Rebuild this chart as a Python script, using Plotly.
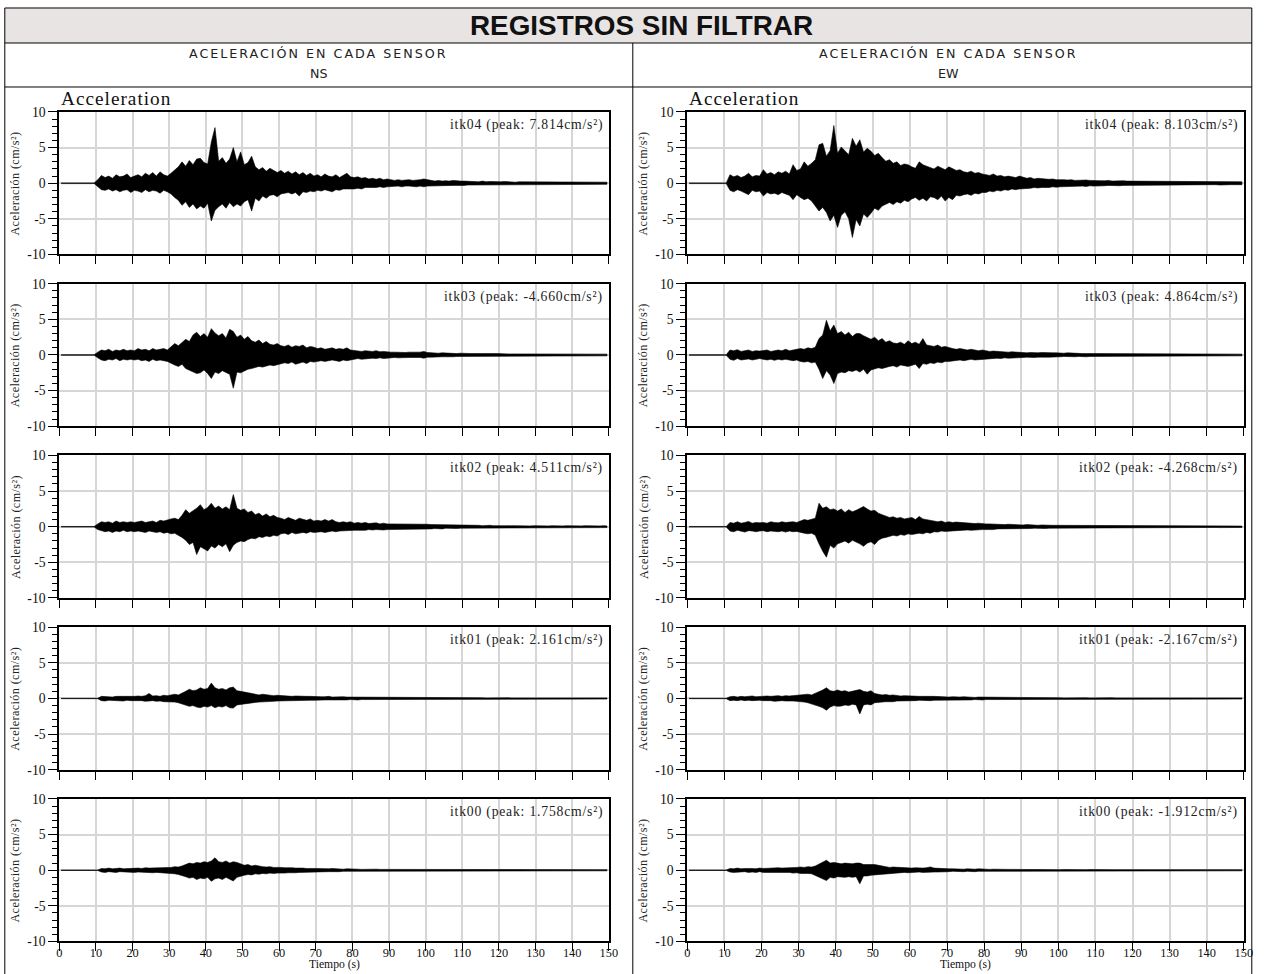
import plotly.graph_objects as go

# ---------------- data (per-second envelope: max / min, cm/s^2) ----------------
time_s = list(range(150))

ns04_max = [0.05,0.04,0.05,0.05,0.04,0.05,0.05,0.04,0.05,0.05,
 0.5,1.1,0.8,1.0,0.7,1.2,0.9,1.0,1.3,0.8,
 1.0,1.2,0.9,1.4,1.1,1.5,1.0,1.6,1.2,1.0,
 1.4,1.8,2.3,3.0,2.4,3.2,2.6,3.4,3.5,2.9,
 2.7,5.8,7.814,3.1,3.6,2.8,3.4,5.0,3.0,4.4,
 2.6,2.9,3.8,2.3,1.9,2.2,1.7,2.1,1.8,1.5,
 1.8,1.4,1.7,1.3,1.6,1.2,1.5,1.1,1.4,1.0,
 1.2,0.9,1.3,1.0,0.9,1.2,0.8,1.1,1.4,0.9,
 0.8,0.9,0.7,0.8,0.6,0.7,0.55,0.7,0.5,0.6,
 0.5,0.4,0.5,0.4,0.45,0.5,0.4,0.4,0.5,0.6,
 0.5,0.4,0.3,0.4,0.3,0.35,0.3,0.4,0.3,0.3,
 0.3,0.25,0.3,0.25,0.2,0.3,0.2,0.25,0.2,0.25,
 0.2,0.25,0.2,0.2,0.15,0.2,0.2,0.15,0.2,0.2,
 0.15,0.2,0.15,0.2,0.15,0.15,0.2,0.15,0.15,0.2,
 0.15,0.15,0.2,0.15,0.15,0.15,0.2,0.15,0.15,0.15]
ns04_min = [-0.05,-0.05,-0.04,-0.05,-0.05,-0.04,-0.05,-0.05,-0.05,-0.04,
 -0.5,-0.9,-1.0,-0.8,-1.1,-0.9,-1.2,-1.0,-0.9,-1.3,
 -1.0,-1.1,-1.3,-0.9,-1.2,-1.0,-1.1,-1.4,-1.0,-1.2,
 -1.5,-2.0,-2.4,-3.1,-2.6,-3.4,-2.9,-3.6,-3.2,-3.5,
 -2.8,-5.3,-3.8,-3.3,-2.9,-3.5,-2.7,-3.3,-2.9,-3.2,
 -2.6,-2.3,-3.9,-2.1,-2.5,-1.8,-2.1,-1.7,-1.6,-1.9,
 -1.5,-1.4,-1.3,-1.5,-1.3,-1.8,-1.2,-1.3,-1.1,-1.2,
 -1.0,-1.1,-0.9,-1.0,-1.2,-0.9,-1.0,-0.8,-0.9,-0.8,
 -0.8,-0.7,-0.8,-0.6,-0.7,-0.6,-0.6,-0.5,-0.6,-0.5,
 -0.5,-0.4,-0.4,-0.5,-0.4,-0.4,-0.4,-0.5,-0.4,-0.5,
 -0.4,-0.4,-0.3,-0.3,-0.3,-0.35,-0.3,-0.3,-0.3,-0.25,
 -0.3,-0.25,-0.25,-0.2,-0.25,-0.2,-0.25,-0.2,-0.2,-0.2,
 -0.2,-0.2,-0.15,-0.2,-0.2,-0.15,-0.2,-0.15,-0.15,-0.2,
 -0.15,-0.15,-0.2,-0.15,-0.15,-0.2,-0.15,-0.15,-0.15,-0.15,
 -0.15,-0.2,-0.15,-0.15,-0.15,-0.15,-0.15,-0.2,-0.15,-0.15]

ns03_max = [0.04,0.04,0.05,0.04,0.04,0.05,0.04,0.04,0.05,0.04,
 0.4,0.7,0.6,0.8,0.5,0.7,0.6,0.8,0.6,0.7,
 0.6,0.9,0.7,0.8,0.6,0.9,0.7,0.8,0.9,0.7,
 1.2,1.6,1.3,1.8,2.2,1.9,2.8,3.2,2.6,3.0,
 2.5,3.7,3.1,2.7,3.0,2.4,3.6,3.3,2.5,2.8,
 2.2,2.6,2.0,1.8,2.1,1.6,1.9,1.5,1.4,1.6,
 1.3,1.2,1.4,1.1,1.3,1.2,1.4,1.0,1.2,1.1,
 0.9,1.0,0.8,0.9,1.0,0.8,0.9,0.8,1.0,0.7,
 0.6,0.6,0.5,0.6,0.5,0.5,0.6,0.45,0.5,0.4,
 0.4,0.4,0.35,0.4,0.35,0.4,0.35,0.4,0.4,0.5,
 0.35,0.3,0.3,0.25,0.3,0.25,0.3,0.25,0.2,0.25,
 0.2,0.25,0.2,0.2,0.25,0.2,0.2,0.15,0.2,0.2,
 0.15,0.2,0.15,0.15,0.2,0.15,0.15,0.15,0.2,0.15,
 0.15,0.12,0.15,0.12,0.15,0.12,0.15,0.12,0.12,0.15,
 0.12,0.12,0.15,0.12,0.12,0.12,0.15,0.12,0.12,0.12]
ns03_min = [-0.04,-0.05,-0.04,-0.04,-0.05,-0.04,-0.04,-0.05,-0.04,-0.04,
 -0.4,-0.7,-0.8,-0.6,-0.7,-0.5,-0.8,-0.6,-0.7,-0.6,
 -0.7,-0.6,-0.8,-0.7,-0.9,-0.6,-0.8,-0.7,-0.8,-0.9,
 -1.1,-1.4,-1.6,-1.3,-1.9,-2.2,-2.4,-2.6,-2.5,-2.1,
 -2.6,-3.3,-2.4,-2.6,-2.2,-2.5,-2.7,-4.66,-2.4,-2.5,
 -2.3,-2.0,-1.9,-1.8,-1.6,-1.7,-1.5,-1.4,-1.5,-1.3,
 -1.2,-1.1,-1.2,-1.0,-1.3,-1.1,-1.0,-1.2,-0.9,-1.0,
 -0.9,-0.8,-0.9,-0.8,-0.7,-0.8,-0.9,-0.7,-0.8,-0.7,
 -0.6,-0.5,-0.6,-0.5,-0.5,-0.45,-0.5,-0.4,-0.5,-0.4,
 -0.4,-0.35,-0.4,-0.35,-0.4,-0.35,-0.35,-0.4,-0.35,-0.45,
 -0.3,-0.3,-0.25,-0.3,-0.25,-0.25,-0.2,-0.25,-0.2,-0.2,
 -0.2,-0.2,-0.15,-0.2,-0.2,-0.15,-0.2,-0.15,-0.15,-0.2,
 -0.15,-0.15,-0.15,-0.12,-0.15,-0.15,-0.12,-0.15,-0.12,-0.12,
 -0.12,-0.15,-0.12,-0.12,-0.12,-0.15,-0.12,-0.12,-0.12,-0.12,
 -0.12,-0.12,-0.12,-0.15,-0.12,-0.12,-0.12,-0.12,-0.12,-0.12]

ns02_max = [0.04,0.04,0.04,0.05,0.04,0.04,0.04,0.05,0.04,0.04,
 0.4,0.7,0.6,0.7,0.5,0.8,0.6,0.7,0.6,0.7,
 0.6,0.7,0.8,0.6,0.7,0.8,0.6,0.9,0.8,1.0,
 1.1,1.2,1.0,1.6,2.4,1.9,2.2,2.6,3.1,2.4,
 2.7,3.3,2.6,2.9,2.5,2.8,2.4,4.511,2.6,2.3,
 2.5,2.0,2.2,1.7,1.9,1.5,1.8,1.4,1.6,1.3,
 1.2,1.0,1.3,1.1,0.9,1.2,1.0,0.9,1.1,0.8,
 0.9,0.8,1.0,0.8,1.0,0.7,0.6,0.7,0.6,0.7,
 0.5,0.6,0.5,0.6,0.45,0.5,0.55,0.4,0.5,0.4,
 0.4,0.35,0.4,0.35,0.4,0.35,0.4,0.35,0.4,0.45,
 0.35,0.3,0.3,0.25,0.3,0.25,0.25,0.3,0.2,0.25,
 0.2,0.2,0.25,0.2,0.2,0.15,0.2,0.2,0.15,0.2,
 0.15,0.15,0.2,0.15,0.15,0.12,0.15,0.15,0.12,0.15,
 0.12,0.15,0.12,0.12,0.15,0.12,0.12,0.12,0.15,0.12,
 0.12,0.12,0.12,0.15,0.12,0.12,0.12,0.12,0.15,0.12]
ns02_min = [-0.04,-0.04,-0.05,-0.04,-0.04,-0.04,-0.05,-0.04,-0.04,-0.04,
 -0.4,-0.6,-0.7,-0.6,-0.8,-0.6,-0.7,-0.5,-0.7,-0.6,
 -0.7,-0.6,-0.7,-0.8,-0.6,-0.7,-0.8,-0.7,-0.9,-0.8,
 -1.0,-0.9,-1.2,-1.5,-1.9,-2.5,-2.2,-3.9,-2.8,-3.1,
 -3.4,-2.7,-3.0,-2.5,-2.8,-2.4,-3.5,-2.6,-2.2,-2.0,
 -2.1,-1.8,-1.6,-1.7,-1.4,-1.5,-1.3,-1.4,-1.2,-1.3,
 -1.0,-0.9,-1.1,-0.8,-1.0,-0.9,-0.8,-0.9,-0.7,-0.8,
 -0.8,-0.7,-0.8,-0.7,-0.6,-0.7,-0.6,-0.5,-0.6,-0.5,
 -0.5,-0.5,-0.45,-0.5,-0.4,-0.45,-0.4,-0.4,-0.45,-0.4,
 -0.35,-0.4,-0.35,-0.35,-0.3,-0.35,-0.35,-0.3,-0.35,-0.4,
 -0.3,-0.3,-0.25,-0.25,-0.3,-0.2,-0.25,-0.2,-0.25,-0.2,
 -0.2,-0.2,-0.2,-0.15,-0.2,-0.2,-0.15,-0.15,-0.2,-0.15,
 -0.15,-0.15,-0.12,-0.15,-0.15,-0.12,-0.15,-0.12,-0.12,-0.15,
 -0.12,-0.12,-0.15,-0.12,-0.12,-0.12,-0.12,-0.15,-0.12,-0.12,
 -0.12,-0.12,-0.12,-0.12,-0.12,-0.15,-0.12,-0.12,-0.12,-0.12]

ns01_max = [0.03,0.03,0.03,0.03,0.03,0.03,0.03,0.03,0.03,0.03,
 0.03,0.3,0.25,0.3,0.2,0.3,0.25,0.3,0.3,0.25,
 0.3,0.35,0.3,0.4,0.7,0.35,0.4,0.3,0.45,0.4,
 0.5,0.6,0.5,0.7,1.0,1.3,1.1,1.2,1.5,1.3,
 1.4,2.161,1.5,1.3,1.4,1.2,1.5,1.6,1.1,1.0,
 0.9,0.8,0.7,0.6,0.5,0.6,0.5,0.45,0.4,0.45,
 0.4,0.35,0.4,0.3,0.35,0.3,0.35,0.3,0.3,0.25,
 0.3,0.25,0.25,0.3,0.2,0.25,0.2,0.25,0.2,0.2,
 0.2,0.2,0.15,0.2,0.15,0.2,0.15,0.15,0.2,0.15,
 0.15,0.12,0.15,0.12,0.12,0.15,0.12,0.12,0.12,0.15,
 0.12,0.1,0.12,0.1,0.12,0.1,0.1,0.12,0.1,0.1,
 0.1,0.1,0.12,0.1,0.1,0.1,0.08,0.1,0.1,0.08,
 0.1,0.08,0.1,0.08,0.08,0.1,0.08,0.08,0.1,0.08,
 0.08,0.08,0.1,0.08,0.08,0.08,0.08,0.1,0.08,0.08,
 0.08,0.08,0.08,0.1,0.08,0.08,0.08,0.08,0.08,0.08]
ns01_min = [-0.03,-0.03,-0.03,-0.03,-0.03,-0.03,-0.03,-0.03,-0.03,-0.03,
 -0.03,-0.3,-0.35,-0.25,-0.3,-0.25,-0.3,-0.35,-0.25,-0.3,
 -0.3,-0.35,-0.3,-0.4,-0.35,-0.3,-0.4,-0.35,-0.45,-0.4,
 -0.5,-0.5,-0.6,-0.7,-0.9,-1.1,-1.0,-1.2,-1.3,-1.1,
 -1.2,-1.0,-1.3,-1.1,-1.2,-1.0,-1.3,-1.35,-0.9,-0.8,
 -0.8,-0.7,-0.6,-0.55,-0.5,-0.5,-0.45,-0.4,-0.4,-0.35,
 -0.35,-0.3,-0.35,-0.3,-0.3,-0.25,-0.3,-0.25,-0.25,-0.25,
 -0.2,-0.25,-0.2,-0.2,-0.25,-0.2,-0.2,-0.15,-0.2,-0.15,
 -0.15,-0.2,-0.15,-0.15,-0.15,-0.12,-0.15,-0.15,-0.12,-0.15,
 -0.12,-0.12,-0.12,-0.15,-0.12,-0.12,-0.1,-0.12,-0.12,-0.1,
 -0.1,-0.12,-0.1,-0.1,-0.1,-0.12,-0.1,-0.1,-0.1,-0.1,
 -0.08,-0.1,-0.1,-0.08,-0.1,-0.08,-0.1,-0.08,-0.08,-0.1,
 -0.08,-0.08,-0.08,-0.1,-0.08,-0.08,-0.08,-0.08,-0.1,-0.08,
 -0.08,-0.08,-0.08,-0.08,-0.08,-0.1,-0.08,-0.08,-0.08,-0.08,
 -0.08,-0.08,-0.08,-0.08,-0.08,-0.08,-0.1,-0.08,-0.08,-0.08]

ns00_max = [0.03,0.03,0.03,0.03,0.03,0.03,0.03,0.03,0.03,0.03,
 0.03,0.25,0.2,0.3,0.2,0.25,0.3,0.2,0.25,0.3,
 0.25,0.3,0.25,0.35,0.3,0.3,0.35,0.3,0.4,0.35,
 0.4,0.5,0.45,0.6,0.8,1.0,0.9,1.1,1.0,1.2,
 1.1,1.3,1.758,1.2,1.1,1.3,1.0,1.2,1.1,0.9,
 0.7,0.8,0.6,0.7,0.55,0.5,0.45,0.5,0.4,0.45,
 0.4,0.35,0.4,0.35,0.3,0.35,0.3,0.25,0.3,0.25,
 0.25,0.2,0.25,0.2,0.25,0.2,0.2,0.15,0.2,0.15,
 0.15,0.15,0.12,0.15,0.12,0.12,0.15,0.12,0.12,0.1,
 0.1,0.12,0.1,0.1,0.12,0.1,0.1,0.1,0.08,0.1,
 0.1,0.08,0.1,0.08,0.1,0.08,0.08,0.1,0.08,0.08,
 0.08,0.08,0.1,0.08,0.08,0.08,0.08,0.08,0.1,0.08,
 0.08,0.08,0.08,0.08,0.1,0.08,0.08,0.08,0.08,0.08,
 0.08,0.1,0.08,0.08,0.08,0.08,0.08,0.1,0.08,0.08,
 0.08,0.08,0.08,0.08,0.08,0.1,0.08,0.08,0.08,0.08]
ns00_min = [-0.03,-0.03,-0.03,-0.03,-0.03,-0.03,-0.03,-0.03,-0.03,-0.03,
 -0.03,-0.25,-0.3,-0.2,-0.25,-0.3,-0.2,-0.25,-0.3,-0.25,
 -0.3,-0.25,-0.3,-0.35,-0.3,-0.35,-0.3,-0.4,-0.35,-0.4,
 -0.45,-0.5,-0.6,-0.7,-0.9,-1.1,-1.0,-1.3,-1.1,-1.2,
 -1.0,-1.55,-1.2,-1.1,-1.3,-1.0,-1.2,-1.5,-1.0,-0.8,
 -0.7,-0.6,-0.65,-0.5,-0.55,-0.45,-0.5,-0.4,-0.45,-0.4,
 -0.35,-0.4,-0.35,-0.3,-0.35,-0.3,-0.3,-0.25,-0.3,-0.25,
 -0.2,-0.25,-0.2,-0.2,-0.2,-0.15,-0.2,-0.15,-0.15,-0.15,
 -0.12,-0.15,-0.12,-0.12,-0.15,-0.12,-0.1,-0.12,-0.1,-0.12,
 -0.1,-0.1,-0.12,-0.1,-0.1,-0.08,-0.1,-0.1,-0.08,-0.1,
 -0.08,-0.1,-0.08,-0.08,-0.1,-0.08,-0.08,-0.08,-0.1,-0.08,
 -0.08,-0.08,-0.08,-0.1,-0.08,-0.08,-0.08,-0.08,-0.08,-0.08,
 -0.1,-0.08,-0.08,-0.08,-0.08,-0.1,-0.08,-0.08,-0.08,-0.08,
 -0.08,-0.08,-0.08,-0.08,-0.1,-0.08,-0.08,-0.08,-0.08,-0.08,
 -0.08,-0.08,-0.1,-0.08,-0.08,-0.08,-0.08,-0.08,-0.08,-0.08]

ew04_max = [0.05,0.05,0.04,0.05,0.05,0.05,0.04,0.05,0.05,0.05,
 0.05,1.2,0.9,1.1,0.8,1.0,1.4,0.9,1.1,1.0,
 1.9,1.3,1.5,1.2,1.6,1.4,1.7,1.3,2.6,1.8,
 2.0,3.0,2.4,2.8,3.3,5.4,5.6,3.8,4.6,8.103,
 4.2,5.1,4.6,4.0,6.3,5.2,6.1,4.4,4.9,4.5,
 3.9,4.2,3.6,3.1,3.3,2.8,3.0,2.5,2.7,2.6,
 2.3,2.1,3.0,2.6,2.4,2.2,2.0,2.4,2.1,1.9,
 2.3,2.0,1.8,1.9,1.6,1.5,1.7,1.4,1.5,1.3,
 1.2,1.1,1.3,1.0,1.1,0.9,1.0,0.9,0.8,1.0,
 0.8,0.7,0.8,0.6,0.7,0.6,0.6,0.55,0.6,0.5,
 0.55,0.5,0.45,0.5,0.4,0.45,0.4,0.45,0.4,0.35,
 0.4,0.35,0.35,0.4,0.3,0.35,0.3,0.35,0.3,0.3,
 0.3,0.25,0.3,0.3,0.25,0.3,0.25,0.25,0.3,0.25,
 0.25,0.3,0.25,0.25,0.2,0.25,0.25,0.3,0.25,0.2,
 0.25,0.2,0.25,0.25,0.2,0.25,0.2,0.25,0.25,0.2]
ew04_min = [-0.05,-0.05,-0.05,-0.04,-0.05,-0.05,-0.05,-0.05,-0.04,-0.05,
 -0.05,-1.0,-1.2,-0.9,-1.1,-1.3,-1.6,-1.0,-1.2,-1.1,
 -1.8,-1.3,-1.5,-1.4,-1.6,-1.3,-1.5,-1.7,-2.3,-1.6,
 -2.0,-2.3,-2.1,-2.5,-3.2,-3.9,-3.4,-4.1,-5.3,-4.5,
 -6.2,-4.5,-4.0,-5.0,-7.6,-5.1,-6.0,-4.3,-4.8,-4.2,
 -3.5,-3.8,-3.2,-2.9,-2.7,-3.0,-2.6,-2.8,-2.4,-2.6,
 -2.2,-2.0,-2.4,-2.1,-2.5,-1.9,-2.0,-2.3,-1.8,-2.5,
 -2.0,-2.3,-1.7,-1.8,-1.6,-1.5,-1.7,-1.4,-1.5,-1.3,
 -1.3,-1.1,-1.2,-1.0,-1.1,-0.9,-1.0,-0.8,-0.9,-0.8,
 -0.8,-0.7,-0.7,-0.6,-0.65,-0.6,-0.55,-0.6,-0.5,-0.55,
 -0.5,-0.45,-0.5,-0.4,-0.45,-0.4,-0.4,-0.45,-0.35,-0.4,
 -0.35,-0.4,-0.35,-0.3,-0.35,-0.3,-0.35,-0.3,-0.3,-0.3,
 -0.3,-0.25,-0.3,-0.25,-0.3,-0.25,-0.25,-0.3,-0.25,-0.25,
 -0.25,-0.3,-0.25,-0.2,-0.25,-0.25,-0.2,-0.25,-0.25,-0.2,
 -0.25,-0.2,-0.2,-0.25,-0.2,-0.25,-0.2,-0.2,-0.25,-0.2]

ew03_max = [0.04,0.04,0.04,0.05,0.04,0.04,0.04,0.04,0.05,0.04,
 0.04,0.7,0.6,0.75,0.5,0.6,0.7,0.5,0.6,0.55,
 0.6,0.7,0.5,0.6,0.7,0.6,0.8,0.6,0.7,0.75,
 0.9,0.8,1.0,0.9,1.1,2.3,2.8,4.864,3.4,4.2,
 3.0,3.3,2.8,3.2,2.6,3.0,3.0,2.7,2.4,2.2,
 2.5,2.0,2.3,1.8,2.0,1.7,1.6,1.8,1.5,2.0,
 1.6,1.8,1.5,2.3,1.4,1.3,1.2,1.4,1.1,1.2,
 1.0,0.9,0.8,0.9,0.8,0.7,0.8,0.7,0.6,0.7,
 0.6,0.5,0.55,0.5,0.45,0.5,0.4,0.45,0.4,0.35,
 0.35,0.3,0.35,0.3,0.3,0.35,0.3,0.25,0.3,0.3,
 0.25,0.25,0.3,0.25,0.2,0.25,0.2,0.2,0.25,0.2,
 0.2,0.2,0.15,0.2,0.2,0.15,0.2,0.15,0.15,0.2,
 0.15,0.15,0.12,0.15,0.15,0.12,0.15,0.12,0.12,0.15,
 0.12,0.12,0.15,0.12,0.12,0.12,0.12,0.15,0.12,0.12,
 0.12,0.12,0.12,0.12,0.15,0.12,0.12,0.12,0.12,0.12]
ew03_min = [-0.04,-0.04,-0.05,-0.04,-0.04,-0.04,-0.05,-0.04,-0.04,-0.04,
 -0.04,-0.6,-0.75,-0.5,-0.7,-0.6,-0.55,-0.7,-0.6,-0.5,
 -0.6,-0.7,-0.6,-0.75,-0.6,-0.7,-0.6,-0.7,-0.8,-0.7,
 -0.9,-1.0,-0.9,-1.1,-1.0,-2.0,-3.3,-2.2,-2.8,-4.0,
 -2.6,-2.4,-2.5,-2.2,-2.3,-2.1,-2.4,-2.0,-2.7,-2.1,
 -2.0,-1.8,-1.9,-1.7,-1.6,-1.5,-1.7,-1.4,-1.5,-1.6,
 -1.4,-1.3,-1.9,-1.2,-1.3,-1.1,-1.2,-1.0,-1.1,-0.9,
 -0.9,-0.8,-0.8,-0.7,-0.8,-0.7,-0.6,-0.7,-0.6,-0.6,
 -0.5,-0.55,-0.5,-0.45,-0.5,-0.4,-0.45,-0.4,-0.35,-0.4,
 -0.35,-0.3,-0.3,-0.35,-0.3,-0.25,-0.3,-0.3,-0.25,-0.3,
 -0.25,-0.2,-0.25,-0.2,-0.25,-0.2,-0.2,-0.25,-0.2,-0.2,
 -0.2,-0.15,-0.2,-0.15,-0.15,-0.2,-0.15,-0.15,-0.2,-0.15,
 -0.15,-0.12,-0.15,-0.12,-0.15,-0.12,-0.12,-0.15,-0.12,-0.12,
 -0.12,-0.15,-0.12,-0.12,-0.12,-0.12,-0.15,-0.12,-0.12,-0.12,
 -0.12,-0.12,-0.12,-0.15,-0.12,-0.12,-0.12,-0.12,-0.12,-0.12]

ew02_max = [0.04,0.04,0.05,0.04,0.04,0.04,0.04,0.05,0.04,0.04,
 0.04,0.6,0.5,0.7,0.5,0.6,0.75,0.5,0.6,0.55,
 0.6,0.5,0.7,0.6,0.55,0.7,0.6,0.65,0.7,0.6,
 0.8,1.0,0.9,1.0,1.2,3.3,2.6,2.8,2.4,2.5,
 2.2,2.5,2.0,2.4,2.1,2.3,2.6,2.85,2.5,2.2,
 2.3,1.9,1.7,1.5,1.3,1.4,1.2,1.3,1.1,1.2,
 1.3,1.0,1.45,1.1,1.0,0.9,0.8,0.7,0.8,0.6,
 0.7,0.6,0.65,0.6,0.55,0.5,0.5,0.45,0.5,0.4,
 0.4,0.4,0.35,0.4,0.35,0.3,0.35,0.3,0.3,0.3,
 0.25,0.3,0.25,0.25,0.2,0.25,0.2,0.25,0.2,0.2,
 0.2,0.2,0.15,0.2,0.15,0.2,0.15,0.15,0.2,0.15,
 0.15,0.12,0.15,0.15,0.12,0.15,0.12,0.12,0.15,0.12,
 0.12,0.12,0.1,0.12,0.12,0.1,0.12,0.12,0.1,0.12,
 0.1,0.12,0.1,0.1,0.12,0.1,0.1,0.12,0.1,0.1,
 0.1,0.1,0.12,0.1,0.1,0.1,0.12,0.1,0.1,0.1]
ew02_min = [-0.04,-0.05,-0.04,-0.04,-0.04,-0.05,-0.04,-0.04,-0.04,-0.04,
 -0.04,-0.6,-0.7,-0.5,-0.6,-0.75,-0.55,-0.6,-0.7,-0.6,
 -0.55,-0.7,-0.6,-0.65,-0.7,-0.6,-0.75,-0.6,-0.7,-0.65,
 -0.8,-0.9,-1.0,-0.9,-1.2,-2.4,-3.45,-4.268,-2.6,-3.0,
 -2.4,-2.2,-2.0,-2.3,-1.9,-2.1,-2.4,-2.75,-2.3,-2.1,
 -2.5,-1.9,-1.6,-1.5,-1.4,-1.2,-1.3,-1.1,-1.2,-1.0,
 -1.1,-1.0,-0.9,-1.0,-0.8,-0.9,-0.7,-0.75,-0.6,-0.65,
 -0.6,-0.55,-0.6,-0.5,-0.5,-0.45,-0.5,-0.4,-0.45,-0.4,
 -0.4,-0.35,-0.4,-0.3,-0.35,-0.3,-0.3,-0.35,-0.3,-0.25,
 -0.3,-0.25,-0.25,-0.2,-0.25,-0.2,-0.25,-0.2,-0.2,-0.2,
 -0.2,-0.15,-0.2,-0.15,-0.2,-0.15,-0.15,-0.2,-0.15,-0.15,
 -0.12,-0.15,-0.15,-0.12,-0.15,-0.12,-0.12,-0.15,-0.12,-0.12,
 -0.12,-0.1,-0.12,-0.12,-0.1,-0.12,-0.1,-0.12,-0.12,-0.1,
 -0.12,-0.1,-0.1,-0.12,-0.1,-0.1,-0.12,-0.1,-0.1,-0.1,
 -0.1,-0.1,-0.1,-0.12,-0.1,-0.1,-0.1,-0.1,-0.12,-0.1]

ew01_max = [0.03,0.03,0.03,0.03,0.03,0.03,0.03,0.03,0.03,0.03,
 0.03,0.25,0.3,0.2,0.3,0.25,0.3,0.35,0.25,0.3,
 0.3,0.35,0.3,0.35,0.4,0.3,0.4,0.35,0.4,0.45,
 0.5,0.45,0.6,0.5,0.7,1.0,1.2,1.5,1.1,1.0,
 1.2,1.0,1.1,0.9,1.0,1.2,1.26,1.0,0.9,1.1,
 0.7,0.6,0.5,0.55,0.45,0.5,0.4,0.35,0.4,0.35,
 0.3,0.35,0.3,0.3,0.25,0.3,0.3,0.25,0.3,0.25,
 0.2,0.25,0.2,0.2,0.25,0.2,0.2,0.15,0.2,0.2,
 0.15,0.2,0.15,0.15,0.15,0.12,0.15,0.12,0.12,0.15,
 0.12,0.1,0.12,0.1,0.12,0.1,0.1,0.12,0.1,0.1,
 0.1,0.08,0.1,0.1,0.08,0.1,0.08,0.1,0.08,0.1,
 0.08,0.1,0.08,0.08,0.1,0.08,0.08,0.1,0.08,0.08,
 0.08,0.08,0.1,0.08,0.08,0.08,0.08,0.1,0.08,0.08,
 0.08,0.08,0.08,0.08,0.1,0.08,0.08,0.08,0.08,0.08,
 0.08,0.1,0.08,0.08,0.08,0.08,0.08,0.08,0.1,0.08]
ew01_min = [-0.03,-0.03,-0.03,-0.03,-0.03,-0.03,-0.03,-0.03,-0.03,-0.03,
 -0.03,-0.3,-0.25,-0.3,-0.2,-0.3,-0.25,-0.3,-0.3,-0.25,
 -0.3,-0.35,-0.3,-0.4,-0.35,-0.3,-0.35,-0.4,-0.35,-0.4,
 -0.5,-0.5,-0.6,-0.7,-0.9,-1.1,-1.3,-1.65,-1.2,-1.0,
 -1.1,-1.07,-0.9,-1.0,-0.8,-0.9,-2.167,-0.9,-0.8,-0.9,
 -0.6,-0.55,-0.5,-0.45,-0.4,-0.45,-0.35,-0.4,-0.35,-0.3,
 -0.3,-0.3,-0.25,-0.3,-0.25,-0.3,-0.25,-0.25,-0.2,-0.25,
 -0.2,-0.2,-0.25,-0.2,-0.15,-0.2,-0.2,-0.15,-0.15,-0.2,
 -0.15,-0.15,-0.12,-0.15,-0.12,-0.15,-0.12,-0.12,-0.12,-0.1,
 -0.12,-0.1,-0.1,-0.12,-0.1,-0.1,-0.12,-0.1,-0.1,-0.1,
 -0.08,-0.1,-0.08,-0.1,-0.08,-0.1,-0.08,-0.08,-0.1,-0.08,
 -0.08,-0.08,-0.1,-0.08,-0.08,-0.08,-0.1,-0.08,-0.08,-0.08,
 -0.08,-0.1,-0.08,-0.08,-0.08,-0.08,-0.08,-0.1,-0.08,-0.08,
 -0.08,-0.08,-0.08,-0.1,-0.08,-0.08,-0.08,-0.08,-0.08,-0.1,
 -0.08,-0.08,-0.08,-0.08,-0.08,-0.1,-0.08,-0.08,-0.08,-0.08]

ew00_max = [0.03,0.03,0.03,0.03,0.03,0.03,0.03,0.03,0.03,0.03,
 0.03,0.25,0.2,0.3,0.2,0.25,0.3,0.25,0.2,0.3,
 0.25,0.3,0.25,0.3,0.35,0.3,0.3,0.35,0.3,0.4,
 0.45,0.4,0.5,0.45,0.6,0.9,1.1,1.4,1.0,1.1,
 1.0,0.9,1.0,0.95,0.9,1.0,1.0,0.8,0.85,0.8,
 0.8,0.7,0.6,0.45,0.4,0.45,0.4,0.35,0.4,0.35,
 0.3,0.35,0.3,0.3,0.35,0.47,0.3,0.25,0.3,0.25,
 0.2,0.2,0.15,0.2,0.15,0.2,0.15,0.15,0.2,0.15,
 0.15,0.12,0.15,0.12,0.12,0.15,0.12,0.12,0.1,0.12,
 0.1,0.1,0.12,0.1,0.1,0.08,0.1,0.1,0.08,0.1,
 0.08,0.1,0.08,0.08,0.1,0.08,0.08,0.08,0.1,0.08,
 0.08,0.08,0.08,0.1,0.08,0.08,0.08,0.08,0.08,0.08,
 0.1,0.08,0.08,0.08,0.08,0.08,0.1,0.08,0.08,0.08,
 0.08,0.08,0.08,0.08,0.1,0.08,0.08,0.08,0.08,0.08,
 0.08,0.08,0.1,0.08,0.08,0.08,0.08,0.08,0.08,0.08]
ew00_min = [-0.03,-0.03,-0.03,-0.03,-0.03,-0.03,-0.03,-0.03,-0.03,-0.03,
 -0.03,-0.25,-0.3,-0.2,-0.25,-0.2,-0.3,-0.25,-0.3,-0.2,
 -0.3,-0.25,-0.3,-0.35,-0.3,-0.35,-0.3,-0.3,-0.4,-0.35,
 -0.45,-0.5,-0.45,-0.5,-0.7,-1.0,-1.2,-1.45,-1.0,-1.1,
 -0.9,-1.0,-1.0,-0.9,-1.0,-0.9,-1.912,-0.8,-0.8,-0.7,
 -0.7,-0.6,-0.55,-0.45,-0.4,-0.35,-0.4,-0.35,-0.3,-0.35,
 -0.3,-0.3,-0.25,-0.3,-0.25,-0.3,-0.25,-0.25,-0.2,-0.25,
 -0.2,-0.15,-0.2,-0.15,-0.2,-0.15,-0.15,-0.2,-0.15,-0.12,
 -0.12,-0.15,-0.12,-0.12,-0.15,-0.1,-0.12,-0.1,-0.12,-0.1,
 -0.1,-0.1,-0.08,-0.1,-0.1,-0.1,-0.08,-0.1,-0.08,-0.08,
 -0.1,-0.08,-0.08,-0.1,-0.08,-0.08,-0.08,-0.1,-0.08,-0.08,
 -0.08,-0.08,-0.1,-0.08,-0.08,-0.08,-0.08,-0.08,-0.1,-0.08,
 -0.08,-0.08,-0.08,-0.08,-0.08,-0.1,-0.08,-0.08,-0.08,-0.08,
 -0.08,-0.1,-0.08,-0.08,-0.08,-0.08,-0.08,-0.1,-0.08,-0.08,
 -0.08,-0.08,-0.08,-0.08,-0.1,-0.08,-0.08,-0.08,-0.08,-0.08]

sensors = ["itk04", "itk03", "itk02", "itk01", "itk00"]
peaks_ns = ["7.814", "-4.660", "4.511", "2.161", "1.758"]
peaks_ew = ["8.103", "4.864", "-4.268", "-2.167", "-1.912"]
ns_max = [ns04_max, ns03_max, ns02_max, ns01_max, ns00_max]
ns_min = [ns04_min, ns03_min, ns02_min, ns01_min, ns00_min]
ew_max = [ew04_max, ew03_max, ew02_max, ew01_max, ew00_max]
ew_min = [ew04_min, ew03_min, ew02_min, ew01_min, ew00_min]
x_ticks = list(range(0, 151, 10))
y_ticks = [-10, -5, 0, 5, 10]
y_tick_text = ["-10", "-5", "0", "5", "10"]

# ---------------- layout helpers ----------------
# Positions below are given in target-picture pixels; they are mapped to page
# pixels with the small scale/offset that the capture applies.
W, H = 1264, 974
SX, BX = 0.9905, 2.2
SY, BY = 0.9846, 7.0
def fx(p): return ((p - BX) / SX) / W
def fy(p): return 1 - ((p - BY) / SY) / H
K = 1 / 0.987  # font compensation

col_x = [(58.5, 608.0), (686.5, 1243.0)]
row_top = [112 + 171.75 * r for r in range(5)]
row_h = 142.5
SERIF = "Liberation Serif"

fig = go.Figure()
annotations = []
shapes = []

for r in range(5):
    for c in range(2):
        n = r * 2 + c + 1
        mx = (ns_max if c == 0 else ew_max)[r]
        mn = (ns_min if c == 0 else ew_min)[r]
        xc = [t + 0.5 for t in time_s]
        fig.add_trace(go.Scatter(x=xc + xc[::-1], y=mx + mn[::-1], mode="lines",
                                 fill="toself", fillcolor="black",
                                 line=dict(color="black", width=0.6),
                                 xaxis="x" if n == 1 else f"x{n}",
                                 yaxis="y" if n == 1 else f"y{n}",
                                 hoverinfo="skip", showlegend=False))
        x0, x1 = col_x[c]
        top = row_top[r]
        bot = top + row_h
        xa = dict(domain=[fx(x0), fx(x1)], range=[0, 150], tickvals=x_ticks,
                  showgrid=True, gridcolor="#d6d6d6", gridwidth=1.5,
                  showline=True, mirror=True, linecolor="black", linewidth=2,
                  ticks="outside", ticklen=8, tickwidth=1, tickcolor="black",
                  showticklabels=(r == 4), zeroline=False, ticklabelstandoff=-9,
                  tickfont=dict(family=SERIF, size=12.2 * K, color="#111"),
                  anchor="y" if n == 1 else f"y{n}")
        ya = dict(domain=[fy(bot), fy(top)], range=[-10, 10],
                  tickvals=y_ticks, ticktext=y_tick_text,
                  showgrid=True, gridcolor="#d6d6d6", gridwidth=1.5,
                  showline=True, mirror=True, linecolor="black", linewidth=2,
                  ticks="outside", ticklen=9, tickwidth=1, tickcolor="black",
                  minor=dict(dtick=1, ticks="outside", ticklen=5, tickwidth=1,
                             tickcolor="black", showgrid=False),
                  zeroline=False, tickfont=dict(family=SERIF, size=13.5 * K, color="#111"),
                  anchor="x" if n == 1 else f"x{n}")
        fig.update_layout(**{("xaxis" if n == 1 else f"xaxis{n}"): xa,
                             ("yaxis" if n == 1 else f"yaxis{n}"): ya})
        peak = (peaks_ns if c == 0 else peaks_ew)[r]
        annotations.append(dict(text=f"<span style='letter-spacing:0.8px'>{sensors[r]} (peak: {peak}cm/s²)</span>",
                                x=fx(x1 - 4), y=fy(top + 13), xref="paper", yref="paper",
                                xanchor="right", yanchor="middle", showarrow=False,
                                font=dict(family=SERIF, size=13.5 * K, color="#222")))
        annotations.append(dict(text="<span style='letter-spacing:0.4px'>Aceleración (cm/s²)</span>", textangle=-90,
                                x=fx(x0 - 44), y=fy((top + bot) / 2), xref="paper", yref="paper",
                                xanchor="center", yanchor="middle", showarrow=False,
                                font=dict(family=SERIF, size=12 * K, color="#222")))

for c in range(2):
    x0, x1 = col_x[c]
    annotations.append(dict(text="<span style='letter-spacing:1px'>Acceleration</span>",
                            x=fx(x0), y=fy(99), xref="paper", yref="paper",
                            xanchor="left", yanchor="middle", showarrow=False,
                            font=dict(family=SERIF, size=19 * K, color="#111")))
    annotations.append(dict(text="Tiempo (s)", x=fx((x0 + x1) / 2), y=fy(956), xref="paper", yref="paper",
                            xanchor="center", yanchor="top", showarrow=False,
                            font=dict(family=SERIF, size=11.5 * K, color="#111")))

# header texts
annotations.append(dict(text="<b>REGISTROS SIN FILTRAR</b>", x=fx(641), y=fy(26), xref="paper", yref="paper",
                        xanchor="center", yanchor="middle", showarrow=False,
                        font=dict(family="Liberation Sans", size=27.5 * K, color="#111")))
for cx, comp in [(318, "NS"), (948, "EW")]:
    annotations.append(dict(text="<span style='letter-spacing:2px'>ACELERACIÓN EN CADA SENSOR</span>",
                            x=fx(cx), y=fy(54), xref="paper", yref="paper",
                            xanchor="center", yanchor="middle", showarrow=False,
                            font=dict(family="DejaVu Sans", size=12.5 * K, color="#222")))
    annotations.append(dict(text=comp, x=fx(cx), y=fy(74), xref="paper", yref="paper",
                            xanchor="center", yanchor="middle", showarrow=False,
                            font=dict(family="DejaVu Sans", size=12.5 * K, color="#222")))

# frame shapes
L, R, T = 4, 1251, 8
shapes.append(dict(type="rect", xref="paper", yref="paper", x0=fx(L), x1=fx(R), y0=fy(43), y1=fy(T),
                   fillcolor="#e8e4e4", line=dict(color="black", width=1), layer="below"))
for (xa_, ya_, xb_, yb_) in [(L, 43, L, 990), (R, 43, R, 990), (632, 43, 632, 990), (L, 87, R, 87)]:
    shapes.append(dict(type="line", xref="paper", yref="paper", x0=fx(xa_), x1=fx(xb_),
                       y0=fy(ya_), y1=fy(yb_), line=dict(color="black", width=1)))

fig.update_layout(width=W, height=H, margin=dict(l=0, r=0, t=0, b=0, pad=0),
                  paper_bgcolor="white", plot_bgcolor="white",
                  annotations=annotations, shapes=shapes, showlegend=False)

fig.write_html("out.html", config={"displayModeBar": False},
               post_script="document.body.style.margin='0';document.body.style.overflow='hidden';")
